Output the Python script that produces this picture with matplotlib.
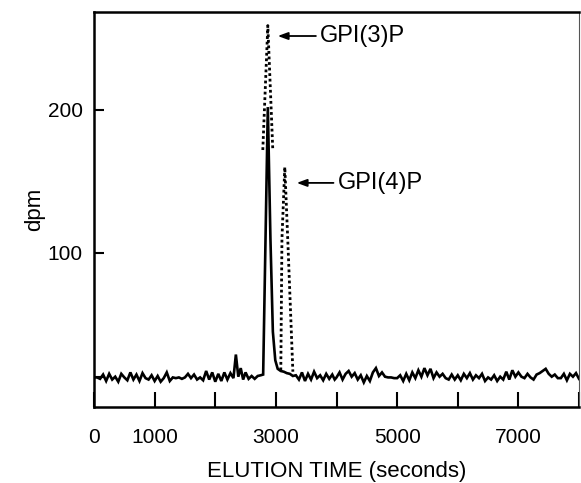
import matplotlib
matplotlib.use("Agg")
import matplotlib.pyplot as plt

plt.rcParams['font.family'] = ['Liberation Sans', 'DejaVu Sans']

# Solid trace (elution profile), time in seconds, dpm
time_s = [0, 50, 100, 150, 200, 250, 300, 350, 400, 450, 500, 550, 600, 650, 700, 750,
          800, 850, 900, 950, 1000, 1050, 1100, 1150, 1200, 1250, 1300, 1350, 1400, 1450,
          1500, 1550, 1600, 1650, 1700, 1750, 1800, 1850, 1900, 1950, 2000,
          2050, 2100, 2150, 2200, 2250, 2300, 2340, 2380, 2420, 2460, 2500, 2550, 2600,
          2650, 2700, 2750, 2790,
          2867, 2910, 2950, 2990, 3030, 3080, 3130, 3180, 3230, 3280,
          3330, 3380, 3430, 3480, 3530, 3580, 3630, 3680, 3730, 3780, 3830, 3880, 3930, 3970,
          4000, 4050, 4100, 4150, 4200, 4250, 4300, 4350, 4400, 4450, 4500, 4550, 4600, 4650,
          4700, 4750, 4800, 4850, 4900, 4950, 5000, 5050, 5100, 5150, 5200, 5250, 5300, 5350,
          5400, 5450, 5500, 5550, 5600, 5650, 5700, 5750, 5800, 5850, 5900, 5950,
          6000, 6050, 6100, 6150, 6200, 6250, 6300, 6350, 6400, 6450, 6500, 6550, 6600, 6650,
          6700, 6750, 6800, 6850, 6900, 6950, 7000, 7050, 7100, 7150, 7200, 7250, 7300, 7350,
          7400, 7450, 7500, 7550, 7600, 7650, 7700, 7750, 7800, 7850, 7900, 7950, 8000]
dpm = [13, 13, 12, 15, 10.5, 15.5, 11.5, 13.5, 10, 15.5, 13, 11, 16.5, 11.5, 15, 10.5,
       16, 12.5, 11.5, 14.5, 10.5, 14, 10, 12.5, 16.5, 10.5, 13, 12.5, 13, 12,
       13, 15.5, 12.5, 15, 11.5, 13, 11, 17.5, 11.5, 16.5, 10,
       15.5, 10.5, 16.5, 11.5, 16, 12.5, 29, 13.5, 19.5, 11.5, 16.5, 12, 14,
       12, 14, 14.5, 15,
       202, 110, 45, 25, 19, 17.5, 17, 16, 15.5, 14,
       14.5, 11.5, 16.5, 10.5, 15.5, 11.5, 17, 12.5, 14.5, 11, 15.5, 12, 15, 11.5,
       13, 16.5, 11.5, 15.5, 17.5, 13.5, 16, 11.5, 14.5, 9.5, 14, 10.5, 16.5, 19.5,
       14, 16.5, 13.5, 13, 13, 12.5, 12.5, 14.5, 10.5, 15.5, 11, 16.5, 12.5, 18,
       13.5, 19.5, 14.5, 19, 12.5, 16.5, 13.5, 15.5, 12.5, 11.5, 15, 11.5,
       14.5, 11, 15.5, 12.5, 16, 11.5, 14.5, 12.5, 15.5, 10.5, 13, 11.5, 14.5, 10.5,
       13.5, 11.5, 17, 11.5, 18, 13.5, 16.5, 13.5, 12.5, 15.5, 13, 11.5, 15, 16,
       17.5, 19, 15.5, 13.5, 15, 12.5, 12.5, 15.5, 11, 15.5, 13.5, 16, 12]

# Dotted trace segments (second run)
gpi3_time = [2784, 2867, 2949]
gpi3_dpm = [172, 259, 172]
gpi4_time = [3081, 3100, 3147, 3200, 3250, 3280]
gpi4_dpm = [18, 110, 160, 105, 50, 17]

x_ticks = [0, 1000, 2000, 3000, 4000, 5000, 6000, 7000, 8000]
x_tick_labels = ['0', '1000', '', '3000', '', '5000', '', '7000', '']
y_ticks = [13, 100, 200]
y_tick_labels = ['', '100', '200']

fig = plt.figure(figsize=(5.81, 4.83), dpi=100)
ax = fig.add_axes([0.1618, 0.1573, 0.8348, 0.8179])

ax.plot(time_s, dpm, color='black', lw=1.9, solid_joinstyle='miter')
ax.plot(gpi3_time, gpi3_dpm, color='black', lw=2.0, linestyle=(0, (1, 1)))
ax.plot(gpi4_time, gpi4_dpm, color='black', lw=2.0, linestyle=(0, (1, 1)))

ax.set_xlim(0, 8000)
ax.set_ylim(-7.7, 268.5)

ax.set_xticks(x_ticks)
ax.set_xticklabels(x_tick_labels)
ax.set_yticks(y_ticks)
ax.set_yticklabels(y_tick_labels)
ax.tick_params(axis='x', direction='in', length=11, width=1.5, labelsize=15, pad=15)
ax.tick_params(axis='y', direction='in', length=7, width=1.5, labelsize=15, pad=8)

for side in ['left', 'bottom', 'top']:
    ax.spines[side].set_linewidth(1.8)
ax.spines['right'].set_linewidth(0.8)
ax.spines['right'].set_color('#555555')

ax.set_xlabel('ELUTION TIME (seconds)', fontsize=16, labelpad=10)
ax.set_ylabel('dpm', fontsize=16, labelpad=2)

arrow_kw = dict(arrowstyle='-|>,head_length=0.6,head_width=0.22', color='black', lw=1.3,
                shrinkA=0, shrinkB=0)
ax.annotate('', xy=(3031, 251.7), xytext=(3660, 251.7), arrowprops=arrow_kw)
ax.text(3723, 251.7, 'GPI(3)P', fontsize=17, va='center', ha='left')
ax.annotate('', xy=(3344, 149), xytext=(3950, 149), arrowprops=arrow_kw)
ax.text(4020, 149, 'GPI(4)P', fontsize=17, va='center', ha='left')

fig.savefig('out.png', dpi=100)
